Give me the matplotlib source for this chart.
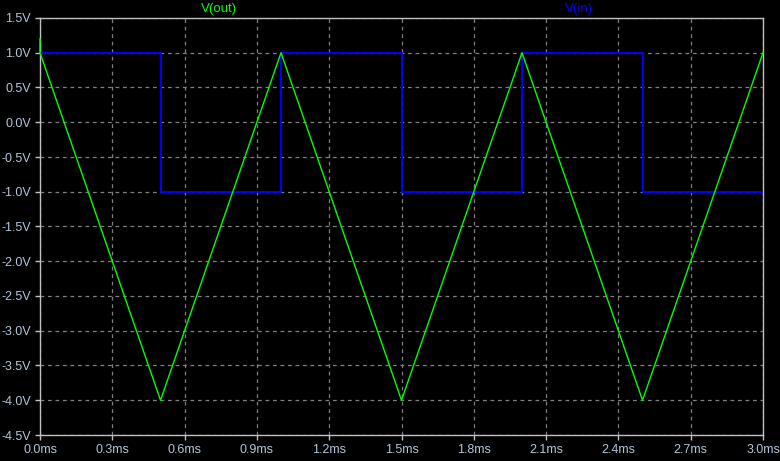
import numpy as np
import matplotlib
matplotlib.use("Agg")
import matplotlib.pyplot as plt

# transient data (time in ms, volts)
t_out = [0.0, 0.0, 0.5, 1.0, 1.5, 2.0, 2.5, 3.0]
v_out = [1.2, 1.0, -4.0, 1.0, -4.0, 1.0, -4.0, 1.0]

t_in = [0.0, 0.5, 0.5, 1.0, 1.0, 1.5, 1.5, 2.0, 2.0, 2.5, 2.5, 3.0]
v_in = [1.0, 1.0, -1.0, -1.0, 1.0, 1.0, -1.0, -1.0, 1.0, 1.0, -1.0, -1.0]

x_ticks = [0.0, 0.3, 0.6, 0.9, 1.2, 1.5, 1.8, 2.1, 2.4, 2.7, 3.0]
y_ticks = [1.5, 1.0, 0.5, 0.0, -0.5, -1.0, -1.5, -2.0, -2.5, -3.0, -3.5, -4.0, -4.5]

TXT = "#b4c4d8"
FRAME = "#c0c0c0"
GRID = "#808080"

plt.rcParams["font.family"] = ["Liberation Sans", "DejaVu Sans"]

W, H = 780, 461
fig = plt.figure(figsize=(W / 100, H / 100), dpi=100, facecolor="black")
ax = fig.add_axes([40 / W, (H - 435) / H, 723 / W, 417 / H], facecolor="black")

ax.plot(t_in, v_in, color="#0000ff", lw=1.4, zorder=3)
ax.plot(t_out, v_out, color="#00ff00", lw=1.0, zorder=4, clip_on=False)

ax.set_xlim(0, 3.0)
ax.set_ylim(-4.5, 1.5)
ax.set_xticks(x_ticks)
ax.set_xticklabels([f"{x:.1f}ms" for x in x_ticks])
ax.set_yticks(y_ticks)
ax.set_yticklabels([f"{y:.1f}V" for y in y_ticks])

ax.grid(True, color=GRID, ls=(0, (3, 3)), lw=0.9)
for s in ax.spines.values():
    s.set_color(FRAME)
    s.set_linewidth(1.0)
ax.tick_params(colors=FRAME, labelcolor=TXT, labelsize=9, length=3.5, width=1)
ax.tick_params(axis="x", pad=3)
ax.tick_params(axis="y", pad=3)

fig.text(219 / W, 1 - 9 / H, "V(out)", color="#00ff00", fontsize=9.5, ha="center", va="center")
fig.text(579 / W, 1 - 9 / H, "V(in)", color="#0000ff", fontsize=9.5, ha="center", va="center")

fig.savefig("out.png", dpi=100, facecolor="black")
